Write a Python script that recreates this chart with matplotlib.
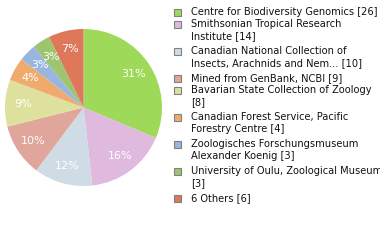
import math
import matplotlib
matplotlib.use("Agg")
import matplotlib.pyplot as plt
from matplotlib.patches import Rectangle

# data
names = ["Centre for Biodiversity Genomics",
         "Smithsonian Tropical Research\nInstitute",
         "Canadian National Collection of\nInsects, Arachnids and Nem...",
         "Mined from GenBank, NCBI",
         "Bavarian State Collection of Zoology\n",
         "Canadian Forest Service, Pacific\nForestry Centre",
         "Zoologisches Forschungsmuseum\nAlexander Koenig",
         "University of Oulu, Zoological Museum\n",
         "6 Others"]
counts = [26, 14, 10, 9, 8, 4, 3, 3, 6]
colors = ["#9ed95a", "#dfbade", "#cfdce6", "#e0a59b", "#dee19d",
          "#efab6e", "#99b7de", "#9dc46f", "#df775b"]

labels = []
for n, c in zip(names, counts):
    sep = "" if n.endswith("\n") else " "
    labels.append(f"{n}{sep}[{c}]")

fig = plt.figure(figsize=(3.8, 2.4), dpi=100)

# pie
W, H = 380, 240
cx, cy, r = 83.5, 107.5, 78.5
ax = fig.add_axes([(cx - r) / W, (H - cy - r) / H, 2 * r / W, 2 * r / H])
ax.pie(counts, colors=colors, startangle=90, counterclock=False,
       radius=1, pctdistance=0.77,
       autopct=lambda p: f"{int(math.floor(p + 1e-9))}%",
       textprops=dict(color="white", fontsize=8),
       wedgeprops=dict(linewidth=0))
ax.set_xlim(-1, 1)
ax.set_ylim(-1, 1)

# legend drawn by hand in pixel coords
lg = fig.add_axes([0, 0, 1, 1])
lg.set_xlim(0, W)
lg.set_ylim(H, 0)
lg.axis("off")

y = 12
line_h = 12
for lab, col in zip(labels, colors):
    lines = lab.split("\n")
    lg.add_patch(Rectangle((174, y - 3.5), 7, 7, facecolor=col,
                           edgecolor="#808080", linewidth=0.8))
    for i, ln in enumerate(lines):
        lg.text(191, y + i * line_h, ln, fontsize=7.1, va="center",
                ha="left", color="#111111")
    y += line_h * len(lines) + 3 * (len(lines) - 1)

fig.savefig("out.png", dpi=100)
